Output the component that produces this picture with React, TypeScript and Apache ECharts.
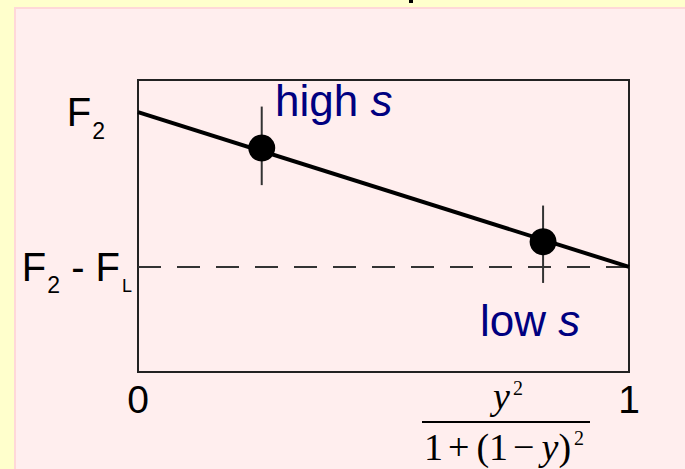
import React, { useEffect, useRef } from 'react';
import * as echarts from 'echarts';

// ---- data ----
const lineX = [0, 1];
const lineY = [0.89, 0.36];
const refLevel = 0.36;
const pointX = [0.252, 0.825];
const pointY = [0.767, 0.446];
const errLow = [0.64, 0.305];
const errHigh = [0.909, 0.57];
const xTickValues = [0, 1];
const xTickLabels = ['0', '1'];
const yTickValues = [0.89, 0.36];
const yTickLabels = ['{b|F}{s|2}{g|}', '{b|F}{s|2}{b| - F}{sl|L}'];
const pointLabels = ['{n|high }{i|s}', '{n|low }{i|s}'];

const SANS = '"Liberation Sans", Arial, sans-serif';
const SERIF = '"Liberation Serif", "Times New Roman", serif';

function matchTick(v: number, vals: number[]): number {
  for (let i = 0; i < vals.length; i++) {
    if (Math.abs(v - vals[i]) < 1e-6) return i;
  }
  return -1;
}

export default function App() {
  const ref = useRef<HTMLDivElement>(null);

  useEffect(() => {
    if (!ref.current) return;
    const chart = echarts.init(ref.current, undefined, { renderer: 'svg' });

    const blueRich = {
      n: { fontFamily: SANS, fontSize: 44, fill: '#000080', lineHeight: 46 },
      i: { fontFamily: SANS, fontSize: 44, fontStyle: 'italic', fill: '#000080', lineHeight: 46 },
    };

    const option: any = {
      animation: false,
      backgroundColor: '#ffffcc',
      grid: {
        left: 138,
        top: 80,
        width: 491,
        height: 292,
        show: true,
        borderColor: '#222',
        borderWidth: 2,
        backgroundColor: 'transparent',
        z: 1,
      },
      xAxis: {
        type: 'value',
        min: 0,
        max: 1,
        interval: 1,
        axisLine: { show: false },
        axisTick: { show: false },
        splitLine: { show: false },
        axisLabel: {
          margin: 8,
          fontFamily: SANS,
          fontSize: 39,
          color: '#000',
          formatter: (v: number) => {
            const i = matchTick(v, xTickValues);
            return i >= 0 ? xTickLabels[i] : '';
          },
        },
      },
      yAxis: {
        type: 'value',
        min: 0,
        max: 1,
        interval: 0.01,
        axisLine: { show: false },
        axisTick: { show: false },
        splitLine: { show: false },
        axisLabel: {
          margin: 6,
          color: '#000',
          formatter: (v: number) => {
            const i = matchTick(v, yTickValues);
            return i >= 0 ? yTickLabels[i] : '';
          },
          rich: {
            b: {
              fontFamily: SANS,
              fontSize: 40,
              lineHeight: 40,
              color: '#000',
            },
            s: {
              fontFamily: SANS,
              fontSize: 23,
              lineHeight: 22,
              color: '#000',
              padding: [37, 0, 0, 1],
            },
            sl: {
              fontFamily: SANS,
              fontSize: 18,
              lineHeight: 18,
              color: '#000',
              padding: [38, 0, 0, 2],
            },
            g: { width: 27, fontSize: 10 },
          },
        },
      },
      graphic: [
        {
          type: 'rect',
          z: -10,
          shape: { x: 15, y: 8, width: 680, height: 470 },
          style: { fill: '#ffeeee', stroke: '#ffd8d8', lineWidth: 2 },
        },
        {
          type: 'rect',
          z: -5,
          shape: { x: 409, y: 0, width: 4, height: 3 },
          style: { fill: '#000' },
        },
        {
          type: 'text',
          x: 275,
          y: 100,
          style: { text: pointLabels[0], rich: blueRich, fill: '#000080', verticalAlign: 'middle', align: 'left' },
        },
        {
          type: 'text',
          x: 480,
          y: 320,
          style: { text: pointLabels[1], rich: blueRich, fill: '#000080', verticalAlign: 'middle', align: 'left' },
        },
        // x-axis title as a fraction
        {
          type: 'text',
          x: 508,
          y: 396,
          style: {
            text: '{i|y}{sup|2}',
            align: 'center',
            verticalAlign: 'middle',
            rich: {
              i: { fontFamily: SERIF, fontSize: 38, fontStyle: 'italic', lineHeight: 40, fill: '#000' },
              sup: { fontFamily: SERIF, fontSize: 20, lineHeight: 20, padding: [0, 0, 16, 3], fill: '#000' },
            },
          },
        },
        {
          type: 'line',
          shape: { x1: 422, y1: 422, x2: 590, y2: 422 },
          style: { stroke: '#000', lineWidth: 2 },
        },
        {
          type: 'text',
          x: 424,
          y: 447,
          style: {
            text: '{n|1}{op|+}{n|(1}{op|−}{i|y}{n|)}{sup|2}',
            align: 'left',
            verticalAlign: 'middle',
            rich: {
              n: { fontFamily: SERIF, fontSize: 38, lineHeight: 40, fill: '#000' },
              op: { fontFamily: SERIF, fontSize: 38, lineHeight: 40, fill: '#000', padding: [0, 7, 0, 5] },
              i: { fontFamily: SERIF, fontSize: 38, fontStyle: 'italic', lineHeight: 40, fill: '#000' },
              sup: { fontFamily: SERIF, fontSize: 20, lineHeight: 20, padding: [0, 0, 18, 3], fill: '#000' },
            },
          },
        },
      ],
      series: [
        {
          type: 'line',
          data: [[0, refLevel], [1, refLevel]],
          symbol: 'none',
          z: 2,
          lineStyle: { color: '#333', width: 2, type: [23, 16] },
        },
        {
          type: 'line',
          data: lineX.map((x, i) => [x, lineY[i]]),
          symbol: 'none',
          z: 3,
          lineStyle: { color: '#000', width: 4 },
        },
        {
          type: 'custom',
          z: 4,
          data: pointX.map((x, i) => [x, errLow[i], errHigh[i]]),
          renderItem: (_params: any, api: any) => {
            const lo = api.coord([api.value(0), api.value(1)]);
            const hi = api.coord([api.value(0), api.value(2)]);
            return {
              type: 'line',
              shape: { x1: lo[0], y1: lo[1], x2: hi[0], y2: hi[1] },
              style: { stroke: '#333', lineWidth: 2 },
            };
          },
        },
        {
          type: 'scatter',
          z: 5,
          symbol: 'circle',
          symbolSize: 27,
          itemStyle: { color: '#000', opacity: 1 },
          data: pointX.map((x, i) => [x, pointY[i]]),
        },
      ],
    };

    chart.setOption(option);
    return () => chart.dispose();
  }, []);

  return (
    <div
      ref={ref}
      style={{ position: 'absolute', left: 0, top: 0, width: 685, height: 469 }}
    />
  );
}
